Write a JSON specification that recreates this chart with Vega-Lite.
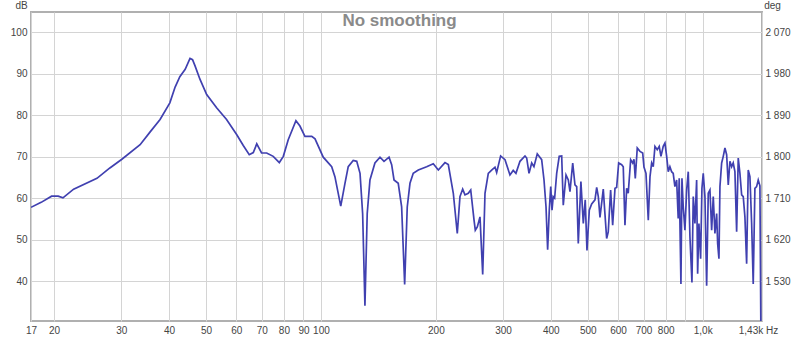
{
  "$schema": "https://vega.github.io/schema/vega-lite/v6.json",
  "width": 731,
  "height": 309,
  "autosize": {"type": "none"},
  "padding": {"left": 31, "top": 12, "right": 38, "bottom": 17},
  "background": "white",
  "config": {"view": {"stroke": "#b0b0b0", "strokeWidth": 2}, "font": "Liberation Sans"},
  "title": {"text": "No smoothing", "fontSize": 17, "fontWeight": "bold", "color": "#8a8a8a", "anchor": "middle", "baseline": "middle", "offset": 0, "dy": 38, "dx": 3, "font": "Liberation Sans"},
  "data": {"values": [
    {"f": 17.4, "db": 57.8}, {"f": 18.5, "db": 59.0}, {"f": 19.7, "db": 60.5}, {"f": 20.5, "db": 60.5}, {"f": 21.1, "db": 60.1},
    {"f": 22.5, "db": 62.2}, {"f": 25.9, "db": 64.8}, {"f": 28.0, "db": 67.3}, {"f": 30.1, "db": 69.4}, {"f": 33.6, "db": 72.9},
    {"f": 35.7, "db": 76.0}, {"f": 37.9, "db": 79.0}, {"f": 40.2, "db": 83.0}, {"f": 41.5, "db": 86.8}, {"f": 42.7, "db": 89.3},
    {"f": 44.1, "db": 91.1}, {"f": 45.4, "db": 93.7}, {"f": 46.1, "db": 93.4}, {"f": 46.8, "db": 91.9}, {"f": 48.2, "db": 88.7},
    {"f": 50.2, "db": 85.0}, {"f": 53.3, "db": 81.8}, {"f": 56.6, "db": 79.0}, {"f": 60.2, "db": 75.3}, {"f": 62.6, "db": 72.7},
    {"f": 64.9, "db": 70.5}, {"f": 66.5, "db": 71.0}, {"f": 67.9, "db": 73.1}, {"f": 69.9, "db": 70.9}, {"f": 72.1, "db": 70.9},
    {"f": 75.0, "db": 70.1}, {"f": 77.8, "db": 68.6}, {"f": 79.7, "db": 70.1}, {"f": 82.1, "db": 74.1}, {"f": 86.0, "db": 78.7},
    {"f": 88.1, "db": 77.4}, {"f": 90.8, "db": 74.9}, {"f": 94.6, "db": 74.9}, {"f": 96.5, "db": 74.3}, {"f": 101.4, "db": 69.9},
    {"f": 106.7, "db": 67.6}, {"f": 108.8, "db": 65.2}, {"f": 112.7, "db": 58.1}, {"f": 115.6, "db": 63.6}, {"f": 117.9, "db": 67.6},
    {"f": 121.5, "db": 69.1}, {"f": 124.1, "db": 68.9}, {"f": 126.6, "db": 66.0}, {"f": 128.6, "db": 56.3}, {"f": 130.4, "db": 34.1},
    {"f": 132.2, "db": 56.3}, {"f": 134.4, "db": 64.4}, {"f": 138.5, "db": 68.5}, {"f": 142.8, "db": 69.9}, {"f": 146.3, "db": 68.9},
    {"f": 150.8, "db": 69.9}, {"f": 153.2, "db": 68.1}, {"f": 155.4, "db": 64.4}, {"f": 159.4, "db": 63.6}, {"f": 162.7, "db": 57.9},
    {"f": 165.7, "db": 39.2}, {"f": 168.3, "db": 57.9}, {"f": 171.1, "db": 63.6}, {"f": 174.5, "db": 66.0}, {"f": 179.9, "db": 66.8},
    {"f": 189.2, "db": 67.6}, {"f": 196.9, "db": 68.3}, {"f": 203.0, "db": 66.8}, {"f": 211.3, "db": 68.6}, {"f": 215.6, "db": 68.1},
    {"f": 222.2, "db": 61.2}, {"f": 227.6, "db": 51.5}, {"f": 231.3, "db": 60.4}, {"f": 235.1, "db": 62.2}, {"f": 238.4, "db": 60.8},
    {"f": 243.2, "db": 61.2}, {"f": 246.8, "db": 62.0}, {"f": 251.8, "db": 54.7}, {"f": 253.7, "db": 52.3}, {"f": 256.8, "db": 53.1},
    {"f": 261.0, "db": 55.5}, {"f": 265.3, "db": 41.6}, {"f": 269.0, "db": 61.2}, {"f": 274.4, "db": 66.0}, {"f": 280.0, "db": 66.8},
    {"f": 285.7, "db": 67.5}, {"f": 288.6, "db": 66.2}, {"f": 295.6, "db": 70.2}, {"f": 303.5, "db": 69.3}, {"f": 312.7, "db": 65.6},
    {"f": 318.9, "db": 66.7}, {"f": 324.2, "db": 66.0}, {"f": 332.2, "db": 68.9}, {"f": 342.4, "db": 70.2}, {"f": 345.9, "db": 69.7},
    {"f": 350.8, "db": 66.0}, {"f": 356.5, "db": 68.5}, {"f": 361.4, "db": 67.6}, {"f": 368.7, "db": 70.7}, {"f": 378.6, "db": 69.3},
    {"f": 384.0, "db": 64.4}, {"f": 388.7, "db": 57.9}, {"f": 392.5, "db": 47.6}, {"f": 396.4, "db": 57.1}, {"f": 399.9, "db": 62.8},
    {"f": 403.0, "db": 57.1}, {"f": 405.9, "db": 60.4}, {"f": 409.4, "db": 60.0}, {"f": 414.5, "db": 66.0}, {"f": 420.9, "db": 70.1},
    {"f": 427.2, "db": 70.2}, {"f": 431.3, "db": 58.3}, {"f": 438.5, "db": 65.6}, {"f": 444.6, "db": 64.4}, {"f": 449.1, "db": 61.6},
    {"f": 456.6, "db": 68.5}, {"f": 462.8, "db": 63.2}, {"f": 467.7, "db": 62.8}, {"f": 472.2, "db": 49.1}, {"f": 479.7, "db": 64.0},
    {"f": 486.7, "db": 53.9}, {"f": 492.4, "db": 59.6}, {"f": 497.6, "db": 47.4}, {"f": 504.6, "db": 57.1}, {"f": 511.9, "db": 58.6},
    {"f": 522.2, "db": 59.6}, {"f": 527.6, "db": 62.6}, {"f": 532.8, "db": 60.4}, {"f": 538.2, "db": 55.4}, {"f": 549.0, "db": 62.2},
    {"f": 554.5, "db": 56.3}, {"f": 560.3, "db": 50.3}, {"f": 565.7, "db": 51.9}, {"f": 573.9, "db": 62.0}, {"f": 581.0, "db": 53.5},
    {"f": 589.2, "db": 62.4}, {"f": 595.1, "db": 62.6}, {"f": 602.4, "db": 68.5}, {"f": 613.4, "db": 68.1}, {"f": 619.3, "db": 67.6},
    {"f": 625.7, "db": 53.5}, {"f": 632.1, "db": 62.4}, {"f": 638.2, "db": 61.2}, {"f": 647.6, "db": 69.3}, {"f": 655.5, "db": 68.5},
    {"f": 660.7, "db": 69.4}, {"f": 665.9, "db": 64.8}, {"f": 673.9, "db": 72.1}, {"f": 685.0, "db": 71.3}, {"f": 696.3, "db": 70.9},
    {"f": 701.7, "db": 67.5}, {"f": 710.3, "db": 66.0}, {"f": 720.2, "db": 54.7}, {"f": 727.7, "db": 65.2}, {"f": 735.0, "db": 68.5},
    {"f": 742.1, "db": 67.6}, {"f": 749.8, "db": 72.5}, {"f": 760.2, "db": 71.7}, {"f": 769.4, "db": 72.5}, {"f": 777.4, "db": 70.1},
    {"f": 788.2, "db": 72.5}, {"f": 796.4, "db": 73.3}, {"f": 804.6, "db": 70.1}, {"f": 812.4, "db": 66.4}, {"f": 820.6, "db": 67.6},
    {"f": 829.1, "db": 66.4}, {"f": 837.1, "db": 66.0}, {"f": 845.6, "db": 62.8}, {"f": 854.5, "db": 64.4}, {"f": 862.7, "db": 55.1},
    {"f": 867.9, "db": 64.8}, {"f": 877.0, "db": 39.3}, {"f": 882.4, "db": 64.8}, {"f": 889.3, "db": 57.9}, {"f": 898.4, "db": 52.3},
    {"f": 907.8, "db": 62.0}, {"f": 916.6, "db": 66.4}, {"f": 925.9, "db": 50.7}, {"f": 937.2, "db": 39.7}, {"f": 944.6, "db": 60.4},
    {"f": 954.2, "db": 53.9}, {"f": 964.1, "db": 64.4}, {"f": 969.9, "db": 41.8}, {"f": 977.5, "db": 53.9}, {"f": 987.6, "db": 45.4},
    {"f": 995.4, "db": 62.4}, {"f": 1003.3, "db": 66.0}, {"f": 1013.6, "db": 60.4}, {"f": 1024.1, "db": 38.9}, {"f": 1034.1, "db": 61.2},
    {"f": 1044.7, "db": 62.0}, {"f": 1055.5, "db": 52.3}, {"f": 1065.8, "db": 60.4}, {"f": 1076.5, "db": 51.5}, {"f": 1087.8, "db": 56.3},
    {"f": 1094.3, "db": 49.1}, {"f": 1103.0, "db": 45.4}, {"f": 1109.6, "db": 62.8}, {"f": 1121.1, "db": 68.5}, {"f": 1132.0, "db": 70.1},
    {"f": 1143.5, "db": 72.1}, {"f": 1155.4, "db": 70.5}, {"f": 1166.7, "db": 63.2}, {"f": 1178.5, "db": 68.9}, {"f": 1190.7, "db": 67.6},
    {"f": 1202.2, "db": 68.5}, {"f": 1214.5, "db": 66.4}, {"f": 1227.2, "db": 51.9}, {"f": 1239.1, "db": 69.7}, {"f": 1251.7, "db": 66.0},
    {"f": 1264.8, "db": 60.8}, {"f": 1277.0, "db": 60.4}, {"f": 1290.0, "db": 55.5}, {"f": 1303.4, "db": 44.2}, {"f": 1316.1, "db": 66.8},
    {"f": 1329.5, "db": 65.2}, {"f": 1343.4, "db": 53.9}, {"f": 1356.3, "db": 39.3}, {"f": 1370.1, "db": 62.4}, {"f": 1384.3, "db": 62.8},
    {"f": 1397.9, "db": 64.4}, {"f": 1412.2, "db": 63.0}, {"f": 1420.0, "db": 30.0}
  ]},
  "layer": [
    {
      "mark": {"type": "line", "color": "#4040b0", "strokeWidth": 1.7, "clip": true},
      "encoding": {
        "x": {
          "field": "f", "type": "quantitative",
          "scale": {"type": "log", "domain": [17.4, 1430], "nice": false},
          "axis": {
            "values": [17.4, 20, 30, 40, 50, 60, 70, 80, 90, 100, 200, 300, 400, 500, 600, 700, 800, 900, 1000, 1430],
            "labelExpr": "datum.value < 18 ? '17' : datum.value == 900 ? '' : datum.value == 1000 ? '1,0k' : datum.value > 1400 ? '1,43k Hz' : format(datum.value, 'd')",
            "grid": true, "gridColor": "#d4d4d4", "gridWidth": 1,
            "ticks": false, "domain": false, "title": null,
            "labelPadding": 4, "labelFontSize": 10, "labelColor": "#444444", "labelFont": "Liberation Sans",
            "labelOverlap": false, "labelBound": false, "labelFlush": false,
            "labelOffset": {"condition": {"test": "datum.value > 1400", "value": -4}, "value": 0}
          }
        },
        "y": {
          "field": "db", "type": "quantitative",
          "scale": {"domain": [30.4, 104.9], "nice": false, "zero": false},
          "axis": {
            "values": [40, 50, 60, 70, 80, 90, 100],
            "grid": true, "gridColor": "#d4d4d4", "gridWidth": 1,
            "ticks": false, "domain": false,
            "labelPadding": 4, "labelFontSize": 10, "labelColor": "#444444", "labelFont": "Liberation Sans",
            "labelOverlap": false, "labelBound": false, "labelFlush": false,
            "title": "dB", "titleAngle": 0, "titleX": -10, "titleY": -7, "titleAlign": "center", "titleBaseline": "middle",
            "titleFontSize": 10, "titleFontWeight": "normal", "titleColor": "#444444", "titleFont": "Liberation Sans"
          }
        }
      }
    },
    {
      "mark": {"type": "line", "opacity": 0},
      "encoding": {
        "x": {"field": "f", "type": "quantitative", "scale": {"type": "log", "domain": [17.4, 1430], "nice": false}},
        "y": {
          "field": "db", "type": "quantitative",
          "scale": {"domain": [30.4, 104.9], "nice": false, "zero": false},
          "axis": {
            "orient": "right",
            "values": [40, 50, 60, 70, 80, 90, 100],
            "labelExpr": "replace(format(1800 + (datum.value - 70) * 9, ','), ',', ' ')",
            "grid": false, "ticks": false, "domain": false,
            "labelPadding": 3, "labelFontSize": 10, "labelColor": "#444444", "labelFont": "Liberation Sans",
            "labelOverlap": false, "labelBound": false, "labelFlush": false,
            "title": "deg", "titleAngle": 0, "titleX": 10, "titleY": -7, "titleAlign": "center", "titleBaseline": "middle",
            "titleFontSize": 10, "titleFontWeight": "normal", "titleColor": "#444444", "titleFont": "Liberation Sans"
          }
        }
      }
    }
  ],
  "resolve": {"axis": {"y": "independent"}}
}
